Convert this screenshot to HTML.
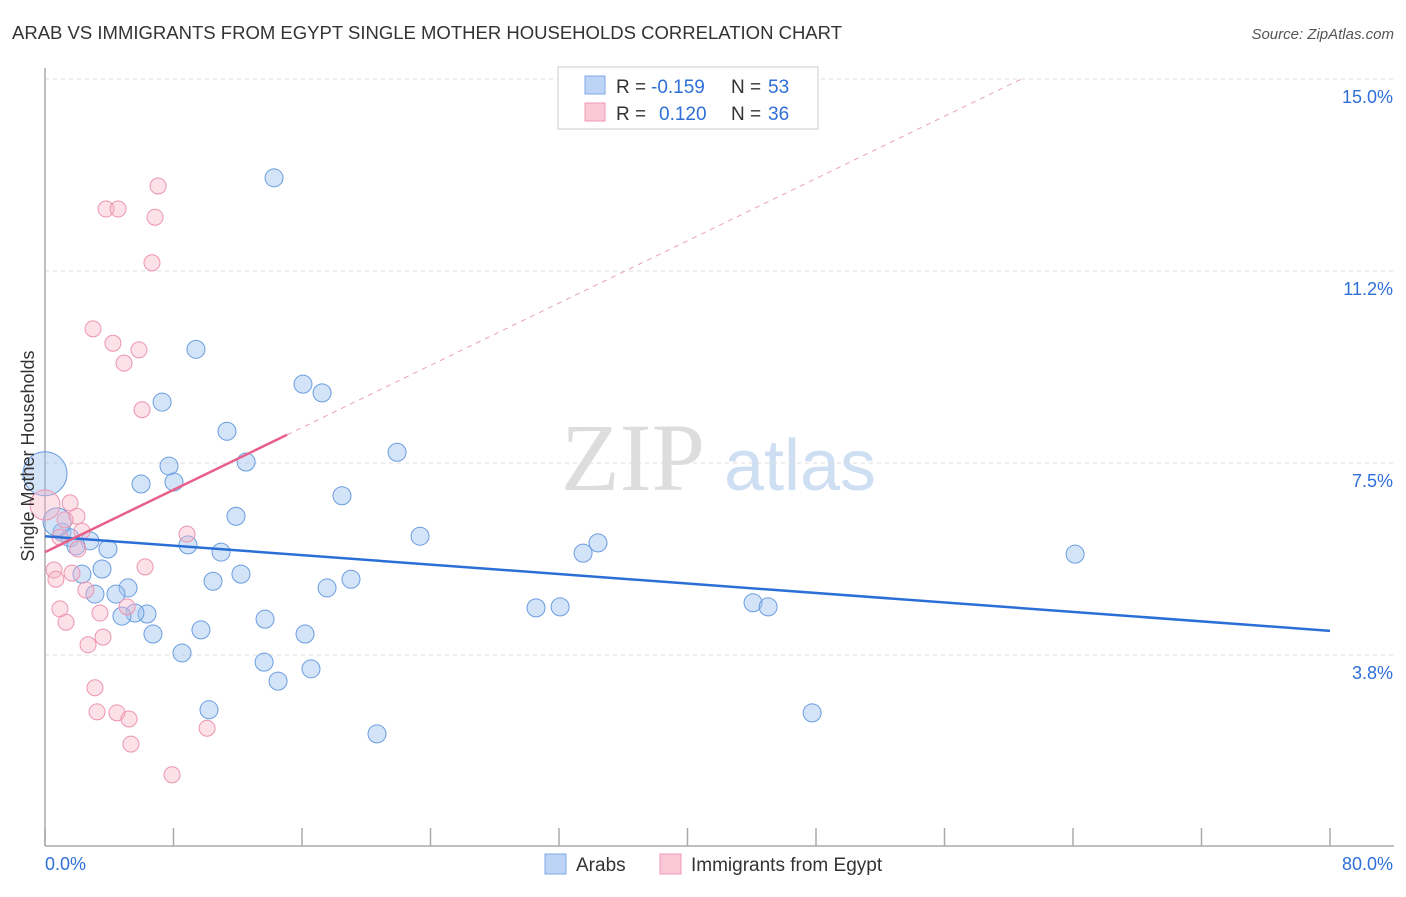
<!DOCTYPE html>
<html><head><meta charset="utf-8"><style>
body{margin:0;background:#fff;font-family:"Liberation Sans",sans-serif}
svg text{font-family:"Liberation Sans",sans-serif}
</style></head><body>
<svg id="c" width="1406" height="892" viewBox="0 0 1406 892">
<text x="12" y="39" font-size="18" fill="#333" textLength="830" lengthAdjust="spacingAndGlyphs">ARAB VS IMMIGRANTS FROM EGYPT SINGLE MOTHER HOUSEHOLDS CORRELATION CHART</text>
<text x="1394" y="39" font-size="15" fill="#555" text-anchor="end" font-style="italic">Source: ZipAtlas.com</text>
<g>
<text x="633" y="490" font-size="96" fill="#ddd" text-anchor="middle" style="font-family:'Liberation Serif',serif">ZIP</text>
<text x="800" y="490" font-size="72" fill="#cfdff3" text-anchor="middle">atlas</text>
</g>
<g id="grid"></g>
<g id="axes"></g>
<g id="marks"></g>
<g>
<rect x="558" y="67" width="260" height="62" fill="#fff" stroke="#ccc"/>
<rect x="585" y="76" width="20" height="18" fill="#bcd4f6" stroke="#7ea8e6"/>
<rect x="585" y="103" width="20" height="18" fill="#fac8d7" stroke="#ee9ab3"/>
<text x="616" y="93" font-size="19" fill="#333">R =</text>
<text x="651" y="93" font-size="19" fill="#2e6fd8">-0.159</text>
<text x="731" y="93" font-size="19" fill="#333">N =</text>
<text x="768" y="93" font-size="19" fill="#2e6fd8">53</text>
<text x="616" y="120" font-size="19" fill="#333">R =</text>
<text x="659" y="120" font-size="19" fill="#2e6fd8">0.120</text>
<text x="731" y="120" font-size="19" fill="#333">N =</text>
<text x="768" y="120" font-size="19" fill="#2e6fd8">36</text>
</g>
<g>
<rect x="545" y="854" width="21" height="20" fill="#bcd4f6" stroke="#7ea8e6"/>
<text x="576" y="871" font-size="19" fill="#333">Arabs</text>
<rect x="660" y="854" width="21" height="20" fill="#fac8d7" stroke="#ee9ab3"/>
<text x="691" y="871" font-size="19" fill="#333">Immigrants from Egypt</text>
</g>
<text transform="translate(34,456) rotate(-90)" font-size="18" fill="#333" text-anchor="middle">Single Mother Households</text>
</svg>
<script>
const yTicks=[3.75,7.5,11.25,15];
const yTickLabels=["3.8%","7.5%","11.2%","15.0%"];
const xTickCount=10;
const xMin=0,xMax=80,yMin=0,yMax=15;
const arabsX=[14.26,9.40,7.29,16.06,17.25,11.33,7.72,12.52,5.98,8.03,21.92,18.49,11.89,23.35,1.06,1.56,2.80,1.93,3.92,8.90,10.96,33.50,34.43,64.13,2.30,3.55,12.20,10.46,19.05,17.56,5.17,4.42,3.11,30.57,32.07,44.08,45.02,6.35,5.60,4.79,13.70,6.72,16.19,9.71,8.53,13.64,16.56,14.51,10.21,47.76,20.67,0.0,0.75];
const arabsY=[13.07,9.72,8.69,9.04,8.87,8.12,7.44,7.52,7.09,7.13,7.71,6.86,6.46,6.07,6.15,6.04,5.98,5.88,5.82,5.90,5.76,5.74,5.94,5.72,5.33,5.43,5.33,5.19,5.23,5.06,5.06,4.94,4.94,4.67,4.69,4.77,4.69,4.55,4.57,4.51,4.45,4.16,4.16,4.24,3.79,3.61,3.48,3.24,2.68,2.62,2.21,7.29,6.35];
const arabsSize=[9,9,9,9,9,9,9,9,9,9,9,9,9,9,9,9,9,9,9,9,9,9,9,9,9,9,9,9,9,9,9,9,9,9,9,9,9,9,9,9,9,9,9,9,9,9,9,9,9,9,9,22,14];
const egyptX=[7.04,3.80,4.55,6.85,6.66,2.99,4.23,5.85,4.92,6.04,0.0,1.56,1.99,2.30,0.93,2.05,8.84,0.56,6.23,0.68,1.68,2.55,3.42,5.11,0.93,1.31,3.61,2.68,3.11,3.24,4.48,5.23,5.35,10.09,7.91,1.25];
const egyptY=[12.91,12.46,12.46,12.30,11.41,10.12,9.84,9.71,9.45,8.54,6.68,6.72,6.46,6.17,6.05,5.82,6.11,5.41,5.47,5.23,5.35,5.02,4.57,4.69,4.65,4.39,4.10,3.95,3.11,2.64,2.62,2.50,2.01,2.32,1.41,6.39];
const egyptSize=[8,8,8,8,8,8,8,8,8,8,15,8,8,8,8,8,8,8,8,8,8,8,8,8,8,8,8,8,8,8,8,8,8,8,8,8];
const arabsTrend=[6.07,-0.0231];
const egyptTrend=[5.76,0.152];
const egyptSolidMax=15.07;

const X0=45,X1=1330,Y0=847,Y1=79;
const sx=v=>X0+(v-xMin)/(xMax-xMin)*(X1-X0);
const sy=v=>Y0-(v-yMin)/(yMax-yMin)*(Y0-Y1);
const NS="http://www.w3.org/2000/svg";
function mk(t,a,p){const e=document.createElementNS(NS,t);for(const k in a)e.setAttribute(k,a[k]);p.appendChild(e);return e;}
const gridG=document.getElementById('grid'),axesG=document.getElementById('axes'),marksG=document.getElementById('marks');
yTicks.forEach((v,i)=>{
 const l=mk('line',{x1:X0,x2:1394,y1:sy(v),y2:sy(v),stroke:'#ddd','stroke-dasharray':'4,4'},gridG);
 
 
 const t=mk('text',{x:1393,y:sy(v)+24,'font-size':18,fill:'#2e6fd8','text-anchor':'end'},axesG);
 t.textContent=yTickLabels[i];
 
 
});
const topGrid=mk('line',{x1:X0,x2:1394,y1:Y1,y2:Y1,stroke:'#ddd','stroke-dasharray':'4,4'},gridG);


const yAxisLine=mk('line',{x1:X0,x2:X0,y1:68,y2:846,stroke:'#aaa','stroke-width':1.5},axesG);


const xAxisLine=mk('line',{x1:X0,x2:1394,y1:846,y2:846,stroke:'#aaa','stroke-width':1.5},axesG);


for(let i=0;i<=xTickCount;i++){
 const v=xMin+(xMax-xMin)*i/xTickCount;
 const t=mk('line',{x1:sx(v),x2:sx(v),y1:828,y2:846,stroke:'#aaa','stroke-width':1.5},axesG);
 
 
}
const xl0=mk('text',{x:45,y:870,'font-size':18,fill:'#2e6fd8'},axesG);xl0.textContent=xMin.toFixed(1)+'%';


const xl1=mk('text',{x:1393,y:870,'font-size':18,fill:'#2e6fd8','text-anchor':'end'},axesG);xl1.textContent=xMax.toFixed(1)+'%';



arabsX.forEach((x,i)=>{
 const c=mk('circle',{cx:sx(x),cy:sy(arabsY[i]),r:arabsSize[i],fill:'rgba(160,196,240,0.45)',stroke:'#6a9de0','stroke-width':1},marksG);
 
 
});
egyptX.forEach((x,i)=>{
 const c=mk('circle',{cx:sx(x),cy:sy(egyptY[i]),r:egyptSize[i],fill:'rgba(248,180,200,0.4)',stroke:'#ec95b0','stroke-width':1},marksG);
 
 
});
const bl=mk('line',{x1:sx(0),y1:sy(arabsTrend[0]),x2:sx(80),y2:sy(arabsTrend[0]+arabsTrend[1]*80),stroke:'#2a6fd6','stroke-width':2.5},marksG);


const pl=mk('line',{x1:sx(0),y1:sy(egyptTrend[0]),x2:sx(egyptSolidMax),y2:sy(egyptTrend[0]+egyptTrend[1]*egyptSolidMax),stroke:'#e8608a','stroke-width':2.5},marksG);


const xe=(15-egyptTrend[0])/egyptTrend[1];
const pd=mk('line',{x1:sx(egyptSolidMax),y1:sy(egyptTrend[0]+egyptTrend[1]*egyptSolidMax),x2:sx(xe),y2:sy(15),stroke:'#eaa0b6','stroke-width':1,'stroke-dasharray':'5,5'},marksG);


</script>
</body></html>
